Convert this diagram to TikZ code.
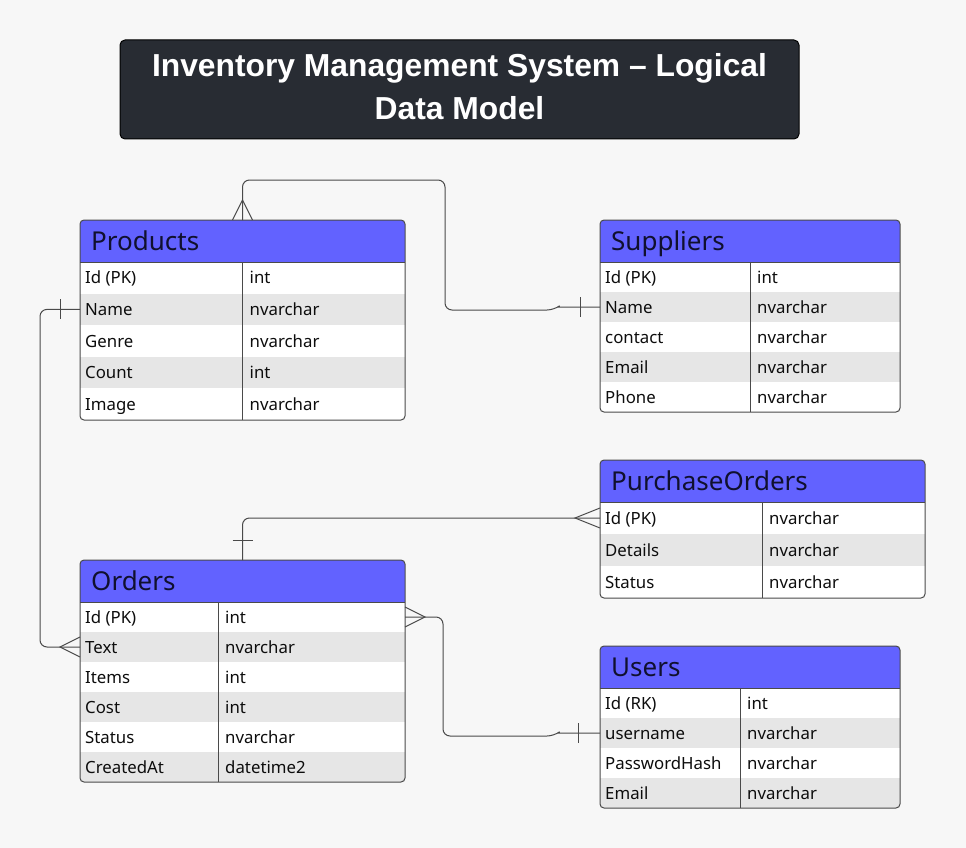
\documentclass[tikz,border=0pt]{standalone}
\usepackage{fontspec}
\setmainfont{Noto Sans}
\newfontfamily\titlefont{Liberation Sans}
\definecolor{bgc}{HTML}{F7F7F7}
\definecolor{hdrc}{HTML}{6262FF}
\definecolor{hdrtxt}{HTML}{10102E}
\definecolor{rowg}{HTML}{E6E6E6}
\definecolor{linec}{HTML}{4A4A4A}
\definecolor{titlec}{HTML}{282C33}
\tikzset{
  tbl/.style={draw=linec, line width=1pt},
  conn/.style={draw=linec, line width=1pt},
  cell/.style={inner sep=0, outer sep=0, anchor=north west},
  celltext/.style={anchor=base west, inner sep=0, font=\fontsize{16.8}{18}\selectfont, text=black!95},
  hdrtext/.style={anchor=base west, inner sep=0, font=\fontsize{26}{30}\selectfont, text=hdrtxt},
}
% #1 name, #2 x, #3 y, #4 width, #5 key col width, #6 row height, #7 rows, #8 title, #9 rows list
\newcommand{\erdtable}[9]{%
  \pgfmathsetmacro\tblh{42+#7*#6}
  \begin{scope}
    \clip[rounded corners=4pt] (#2,#3) rectangle ++(#4,\tblh);
    \node[cell, fill=hdrc, minimum width=#4, minimum height=42] (#1) at (#2,#3) {};
    \foreach \k/\t [count=\i] in {#9} {
      \ifodd\i\relax\def\rf{white}\else\def\rf{rowg}\fi
      \node[cell, fill=\rf, minimum width=#4, minimum height=#6] (#1-\i) at (#2,{#3+42+(\i-1)*#6}) {};
      \node[celltext] (#1-k\i) at ({#2+5},{#3+42+(\i-0.5)*#6+6}) {\k};
      \node[celltext] (#1-t\i) at ({#2+#5+7},{#3+42+(\i-0.5)*#6+6}) {\t};
    }
  \end{scope}
  \node[hdrtext] (#1-title) at ({#2+11},{#3+30}) {#8};
  \draw[tbl] ({#2+#5},{#3+42}) -- ++(0,{#7*#6});
  \draw[tbl] (#1.south west) -- (#1.south east);
  \draw[tbl, rounded corners=4pt] (#2,#3) rectangle ++(#4,\tblh);
}
\begin{document}
\begin{tikzpicture}[x=1pt,y=-1pt]
\useasboundingbox (0,0) rectangle (966,848);
\fill[bgc] (0,0) rectangle (966,848);

% title
\node[draw=black, fill=titlec, rounded corners=5pt, minimum width=679, minimum height=99, line width=1pt, inner sep=0] (title) at (459.5,89.5) {};
\node[text=white, font=\titlefont\bfseries\fontsize{31.8}{43}\selectfont, align=center] (titletext) at (459.5,86.5) {Inventory Management System – Logical\\Data Model};

% tables
\erdtable{prod}{80}{220}{325}{162.5}{31.6}{5}{Products}{Id (PK)/int, Name/nvarchar, Genre/nvarchar, Count/int, Image/nvarchar}
\erdtable{sup}{600}{220}{300}{150}{30}{5}{Suppliers}{Id (PK)/int, Name/nvarchar, contact/nvarchar, Email/nvarchar, Phone/nvarchar}
\erdtable{po}{600}{460}{325}{162}{32}{3}{PurchaseOrders}{Id (PK)/nvarchar, Details/nvarchar, Status/nvarchar}
\erdtable{ord}{80}{560}{325}{138}{30}{6}{Orders}{Id (PK)/int, Text/nvarchar, Items/int, Cost/int, Status/nvarchar, CreatedAt/datetime2}
\erdtable{usr}{600}{646}{300}{140}{30}{4}{Users}{Id (RK)/int, username/nvarchar, PasswordHash/nvarchar, Email/nvarchar}

% connector 1: Products -- Suppliers
\draw[conn, rounded corners=7pt] (prod.north) -- (242.5,180) -- (445,180) -- (445,310) -- (554,310) [sharp corners] -- (558,307) -- (sup-2.west);
\draw[conn] ([xshift=-10pt]prod.north) -- ++(10,-20) -- ++(10,20);
\draw[conn] ([xshift=-20pt]sup-2.west) ++(0,-10) -- ++(0,20);

% connector 2: Products.Name -- Orders.Text
\draw[conn, rounded corners=7pt] (prod-2.west) -- (40,309.4) -- (40,647) -- (ord-2.west);
\draw[conn] ([xshift=-20pt]prod-2.west) ++(0,-10) -- ++(0,20);
\draw[conn] (ord-2.west) ++(0,-10) -- ++(-20,10) -- ++(20,10);

% connector 3: Orders -- PurchaseOrders
\draw[conn, rounded corners=7pt] (ord.north) -- (242.5,518) -- (po-1.west);
\draw[conn] (ord.north) ++(-10,-20) -- ++(20,0);
\draw[conn] (po-1.west) ++(0,-10) -- ++(-25,10) -- ++(25,10);

% connector 4: Orders -- Users
\draw[conn, rounded corners=7pt] (ord-1.east) -- (443,617) -- (443,736) -- (554,736) [sharp corners] -- (558,733) -- (usr-2.west);
\draw[conn] (ord-1.east) ++(0,-10) -- ++(20,10) -- ++(-20,10);
\draw[conn] ([xshift=-22pt]usr-2.west) ++(0,-10) -- ++(0,20);
\end{tikzpicture}
\end{document}
